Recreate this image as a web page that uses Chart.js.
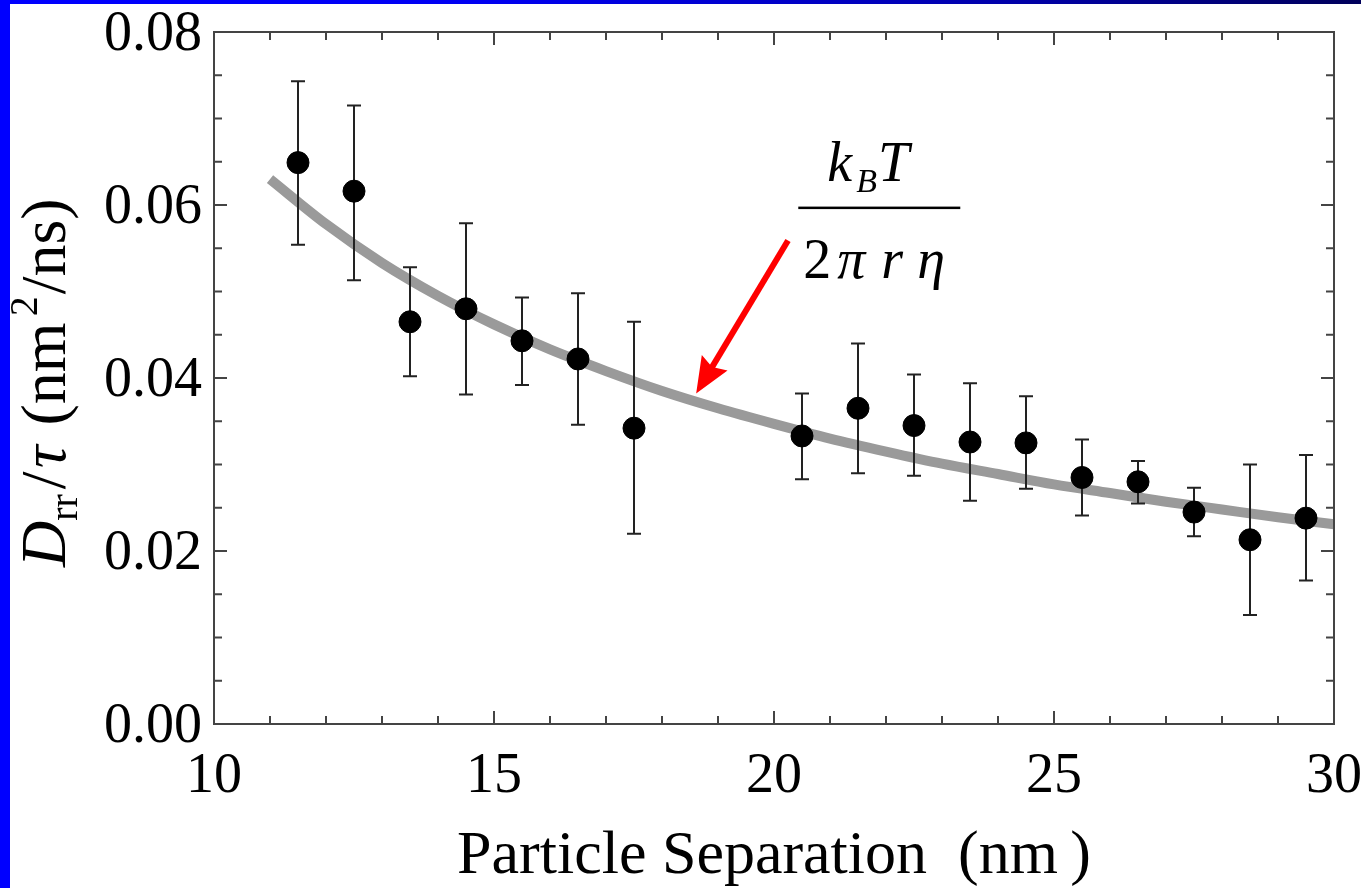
<!DOCTYPE html>
<html lang="en">
<head>
<meta charset="UTF-8">
<title>Drr/tau vs particle separation</title>
<style>
  html, body { margin: 0; padding: 0; background: #fff; }
  body { width: 1361px; height: 888px; position: relative; overflow: hidden; }
  #wrap { position: absolute; left: 0; top: 0; width: 1361px; height: 888px; }
  #edgeTop {
    position: absolute; left: 0; top: 0; width: 1361px; height: 4px;
    background: linear-gradient(to right, #0000ff 0%, #0000f2 35%, #0000a8 75%, #00005a 100%);
  }
  #edgeLeft { position: absolute; left: 0; top: 0; width: 10px; height: 888px; background: #0000ff; }
</style>
</head>
<body>
<div id="wrap"><canvas id="chart" width="1361" height="888"></canvas></div>
<div id="edgeTop"></div>
<div id="edgeLeft"></div>

<script src="https://cdn.jsdelivr.net/npm/chart.js"></script>
<script>
// measured points (nm, nm^2/ns) with upper / lower ends of the error bars
const separation = [11.5, 12.5, 13.5, 14.5, 15.5, 16.5, 17.5, 20.5, 21.5, 22.5, 23.5, 24.5, 25.5, 26.5, 27.5, 28.5, 29.5];
const drr        = [0.0649, 0.0616, 0.0465, 0.0480, 0.0443, 0.0422, 0.0342, 0.0333, 0.0365, 0.0345, 0.0326, 0.0325, 0.0285, 0.0280, 0.0245, 0.0213, 0.0238];
const errHigh    = [0.0743, 0.0715, 0.0528, 0.0579, 0.0493, 0.0498, 0.0465, 0.0382, 0.0440, 0.0404, 0.0394, 0.0379, 0.0329, 0.0304, 0.0273, 0.0300, 0.0311];
const errLow     = [0.0554, 0.0513, 0.0402, 0.0381, 0.0392, 0.0346, 0.0220, 0.0283, 0.0290, 0.0287, 0.0258, 0.0272, 0.0241, 0.0255, 0.0217, 0.0126, 0.0166];

// kT / (2 pi r eta) curve, read along its length
const fitX = [11, 12, 13, 14, 15, 16, 17, 18, 19, 20, 21, 22, 23, 24, 25, 26, 27, 28, 29, 30];
const fitY = [0.0630, 0.0578, 0.0533, 0.0495, 0.0462, 0.0433, 0.0408, 0.0385, 0.0365, 0.0347,
              0.0330, 0.0315, 0.0301, 0.0289, 0.0277, 0.0267, 0.0257, 0.0248, 0.0239, 0.0231];

const xTickLabels = ['10', '15', '20', '25', '30'];
const yTickLabels = ['0.00', '0.02', '0.04', '0.06', '0.08'];

const SERIF = "'Liberation Serif', 'Times New Roman', serif";

// frame on all four sides with inward ticks (major + minor)
const frameTicks = {
  id: 'frameTicks',
  afterDraw(chart) {
    const { ctx, chartArea: a, scales: { x, y } } = chart;
    ctx.save();
    ctx.strokeStyle = '#444';
    ctx.lineWidth = 2;
    ctx.strokeRect(a.left, a.top, a.right - a.left, a.bottom - a.top);
    ctx.beginPath();
    for (let v = 10; v <= 30; v++) {
      const px = x.getPixelForValue(v);
      const len = v % 5 === 0 ? 13 : 8;
      ctx.moveTo(px, a.bottom); ctx.lineTo(px, a.bottom - len);
      ctx.moveTo(px, a.top);    ctx.lineTo(px, a.top + len);
    }
    for (let i = 0; i <= 16; i++) {
      const py = y.getPixelForValue(i * 0.005);
      const len = i % 4 === 0 ? 13 : 8;
      ctx.moveTo(a.left, py);  ctx.lineTo(a.left + len, py);
      ctx.moveTo(a.right, py); ctx.lineTo(a.right - len, py);
    }
    ctx.stroke();
    ctx.restore();
  }
};

// error bars go on top of the grey curve but under the dots
const errorBars = {
  id: 'errorBars',
  afterDatasetDraw(chart, args) {
    if (args.index !== 1) return;
    const { ctx, scales: { x, y } } = chart;
    ctx.save();
    ctx.strokeStyle = '#222';
    ctx.lineWidth = 2;
    ctx.beginPath();
    separation.forEach((s, i) => {
      const px = x.getPixelForValue(s);
      const top = y.getPixelForValue(errHigh[i]);
      const bot = y.getPixelForValue(errLow[i]);
      ctx.moveTo(px, top); ctx.lineTo(px, bot);
      ctx.moveTo(px - 7, top); ctx.lineTo(px + 7, top);
      ctx.moveTo(px - 7, bot); ctx.lineTo(px + 7, bot);
    });
    ctx.stroke();
    ctx.restore();
  }
};

// draw a run of [text, style, size, dy, gap] pieces along a baseline
function drawRun(ctx, pieces, x0, y0) {
  let cx = x0;
  pieces.forEach(([t, style, size, dy, gap]) => {
    ctx.font = `${style} ${size}px ${SERIF}`;
    cx += gap || 0;
    ctx.fillText(t, cx, y0 + (dy || 0));
    cx += ctx.measureText(t).width;
  });
}

// formula label and red arrow pointing at the curve
const formulaNote = {
  id: 'formulaNote',
  afterDraw(chart) {
    const { ctx, scales: { x, y } } = chart;
    const cx = x.getPixelForValue(21.88);
    const cy = y.getPixelForValue(0.0597);
    ctx.save();
    ctx.fillStyle = '#000';
    ctx.textBaseline = 'alphabetic';
    drawRun(ctx, [
      ['k', 'italic', 56, 0, 0],
      ['B', 'italic', 34, 11, 4],
      ['T', 'italic', 56, 0, 1]
    ], cx - 52, cy - 27);
    ctx.fillRect(cx - 81, cy - 1, 162, 2.5);
    drawRun(ctx, [
      ['2', 'normal', 56, 0, 0],
      ['\u03C0', 'italic', 56, 0, 6],
      ['r', 'italic', 56, 0, 16],
      ['\u03B7', 'italic', 56, 0, 14]
    ], cx - 76, cy + 70);

    // arrow
    const tx = x.getPixelForValue(18.61), ty = y.getPixelForValue(0.0382);
    const sx = x.getPixelForValue(20.25), sy = y.getPixelForValue(0.0559);
    const ang = Math.atan2(ty - sy, tx - sx);
    const head = 36, half = 15;
    const bx = tx - head * Math.cos(ang), by = ty - head * Math.sin(ang);
    ctx.strokeStyle = '#ff0000';
    ctx.fillStyle = '#ff0000';
    ctx.lineWidth = 6;
    ctx.beginPath();
    ctx.moveTo(sx, sy);
    ctx.lineTo(bx + 6 * Math.cos(ang), by + 6 * Math.sin(ang));
    ctx.stroke();
    ctx.beginPath();
    ctx.moveTo(tx, ty);
    ctx.lineTo(bx - half * Math.sin(ang), by + half * Math.cos(ang));
    ctx.lineTo(bx + 5 * Math.cos(ang), by + 5 * Math.sin(ang));
    ctx.lineTo(bx + half * Math.sin(ang), by - half * Math.cos(ang));
    ctx.closePath();
    ctx.fill();
    ctx.restore();
  }
};

// rotated y-axis title with sub/superscripts
const yTitle = {
  id: 'yTitle',
  afterDraw(chart) {
    const { ctx } = chart;
    ctx.save();
    ctx.translate(65, 567);
    ctx.rotate(-Math.PI / 2);
    ctx.fillStyle = '#000';
    ctx.textBaseline = 'alphabetic';
    drawRun(ctx, [
      ['D', 'italic', 64, 0, 0],
      ['rr', 'normal', 40, 12, 0],
      ['/', 'normal', 64, 0, 5],
      ['\u03C4', 'italic', 64, 0, 3],
      [' (nm', 'normal', 64, 0, 4],
      ['2', 'normal', 40, -28, 6],
      ['/ns)', 'normal', 64, 0, 2]
    ], 0, 0);
    ctx.restore();
  }
};

new Chart(document.getElementById('chart'), {
  type: 'scatter',
  data: {
    datasets: [
      {
        label: 'Drr/tau',
        data: separation.map((s, i) => ({ x: s, y: drr[i] })),
        backgroundColor: '#000',
        borderColor: '#000',
        pointRadius: 11,
        pointHoverRadius: 11,
        showLine: false
      },
      {
        label: 'kT/(2 pi r eta)',
        data: fitX.map((v, i) => ({ x: v, y: fitY[i] })),
        showLine: true,
        borderColor: '#9a9a9a',
        borderWidth: 10,
        borderCapStyle: 'butt',
        pointRadius: 0,
        cubicInterpolationMode: 'monotone',
        clip: false
      }
    ]
  },
  options: {
    responsive: false,
    animation: false,
    events: [],
    layout: { padding: { top: 32, right: 27, left: 0, bottom: 0 } },
    plugins: { legend: { display: false }, tooltip: { enabled: false } },
    scales: {
      x: {
        type: 'linear',
        min: 10, max: 30,
        grid: { display: false, drawTicks: false },
        border: { display: false },
        ticks: {
          stepSize: 5,
          padding: 20,
          color: '#000',
          font: { family: SERIF, size: 56 },
          maxRotation: 0,
          callback: (v) => xTickLabels[(v - 10) / 5]
        },
        title: {
          display: true,
          text: 'Particle Separation  (nm\u2009)',
          color: '#000',
          font: { family: SERIF, size: 62, lineHeight: 1 },
          padding: { top: 0, bottom: 0 }
        },
        afterFit(s) {
          s.height = 164;
          s.paddingLeft = 0;
          s.paddingRight = 0;
        }
      },
      y: {
        min: 0, max: 0.08,
        grid: { display: false, drawTicks: false },
        border: { display: false },
        ticks: {
          stepSize: 0.02,
          padding: 12,
          labelOffset: 3,
          color: '#000',
          font: { family: SERIF, size: 56 },
          callback: (v) => yTickLabels[Math.round(v / 0.02)]
        },
        afterFit(s) {
          s.width = 214;
          s.paddingTop = 0;
          s.paddingBottom = 0;
        }
      }
    }
  },
  plugins: [errorBars, frameTicks, formulaNote, yTitle]
});
</script>
</body>
</html>
